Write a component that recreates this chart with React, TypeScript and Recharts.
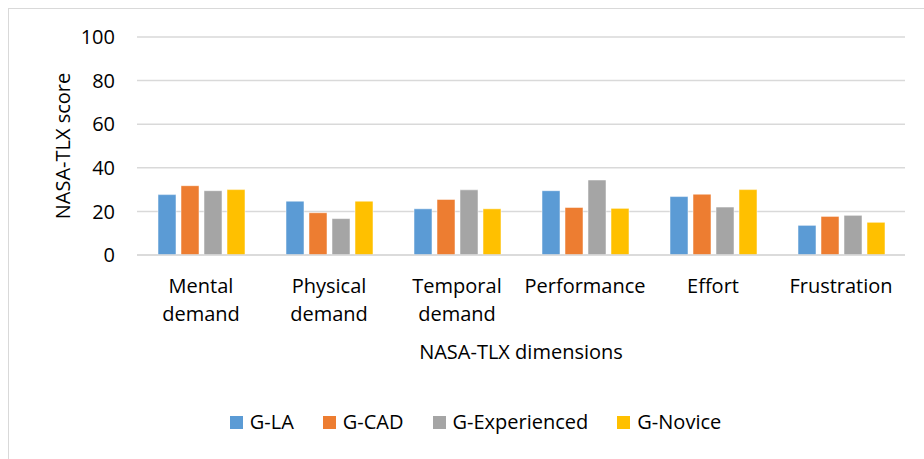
import React from 'react';
import { BarChart, Bar, XAxis, YAxis, CartesianGrid, Legend } from 'recharts';

const categories = ['Mental demand', 'Physical demand', 'Temporal demand', 'Performance', 'Effort', 'Frustration'];
const gLA = [27.7, 24.7, 21.2, 29.5, 26.8, 13.6];
const gCAD = [31.8, 19.4, 25.5, 21.8, 27.9, 17.7];
const gExperienced = [29.5, 16.7, 29.9, 34.4, 22.0, 18.2];
const gNovice = [30.0, 24.7, 21.2, 21.4, 30.0, 15.0];
const yTicks = [0, 20, 40, 60, 80, 100];

const SERIES = [
  { key: 'la', name: 'G-LA', color: '#5B9BD5', values: gLA },
  { key: 'cad', name: 'G-CAD', color: '#ED7D31', values: gCAD },
  { key: 'exp', name: 'G-Experienced', color: '#A5A5A5', values: gExperienced },
  { key: 'nov', name: 'G-Novice', color: '#FFC000', values: gNovice },
];

const data = categories.map((name, i) => {
  const row: any = { name };
  SERIES.forEach((s) => { row[s.key] = s.values[i]; });
  return row;
});

const FONT = '"Open Sans", sans-serif';
const FS = 20;
const TEXT = '#000';

// two-line category labels like Excel wraps them
const CategoryTick = (props: any) => {
  const { x, y, payload } = props;
  const words = String(payload.value).split(' ');
  return (
    <g transform={`translate(${x},${y})`}>
      {words.map((w, i) => (
        <text key={i} x={0} y={i * 28} dy={14} textAnchor="middle" fill={TEXT} fontSize={FS} fontFamily={FONT}>
          {w}
        </text>
      ))}
    </g>
  );
};

const LegendContent = () => (
  <div style={{ display: 'flex', justifyContent: 'center', alignItems: 'center', fontFamily: FONT, fontSize: FS, color: TEXT, paddingLeft: 56, lineHeight: '24px' }}>
    {SERIES.map((s) => (
      <div key={s.key} style={{ display: 'flex', alignItems: 'center', marginRight: 29 }}>
        <span style={{ width: 13, height: 13, background: s.color, display: 'inline-block', marginRight: 7 }} />
        <span>{s.name}</span>
      </div>
    ))}
  </div>
);

export default function App() {
  return (
    <div style={{ position: 'fixed', left: 0, top: 0, width: 924, height: 459, background: '#fff', overflow: 'hidden' }}>
      <div style={{ position: 'absolute', left: 8, top: 8, width: 940, height: 480, border: '1px solid #D9D9D9' }} />
      <BarChart
        width={924}
        height={459}
        data={data}
        margin={{ top: 37, right: 19, left: 77, bottom: 70 }}
        barGap={5}
        barSize={18}
      >
        <CartesianGrid vertical={false} stroke="#D9D9D9" strokeWidth={1.5} />
        <XAxis
          dataKey="name"
          height={110}
          axisLine={{ stroke: '#D9D9D9', strokeWidth: 1.5 }}
          tickLine={false}
          interval={0}
          tick={<CategoryTick />}
          tickMargin={18}
          label={{ value: 'NASA-TLX dimensions', position: 'insideTop', offset: 90, fill: TEXT, fontSize: FS, fontFamily: FONT }}
        />
        <YAxis
          width={60}
          domain={[0, 100]}
          ticks={yTicks}
          axisLine={false}
          tickLine={false}
          tickSize={10}
          tickMargin={12}
          tick={{ fill: TEXT, fontSize: FS, fontFamily: FONT }}
          label={{ value: 'NASA-TLX score', angle: -90, position: 'insideLeft', offset: 0, dx: -14, fill: TEXT, fontSize: FS, fontFamily: FONT, style: { textAnchor: 'middle' } }}
        />
        <Legend content={<LegendContent />} wrapperStyle={{ top: 410, left: 0, width: 924 }} />
        {SERIES.map((s) => (
          <Bar key={s.key} dataKey={s.key} name={s.name} fill={s.color} stroke="#fff" strokeOpacity={0.5} isAnimationActive={false} />
        ))}
      </BarChart>
    </div>
  );
}
